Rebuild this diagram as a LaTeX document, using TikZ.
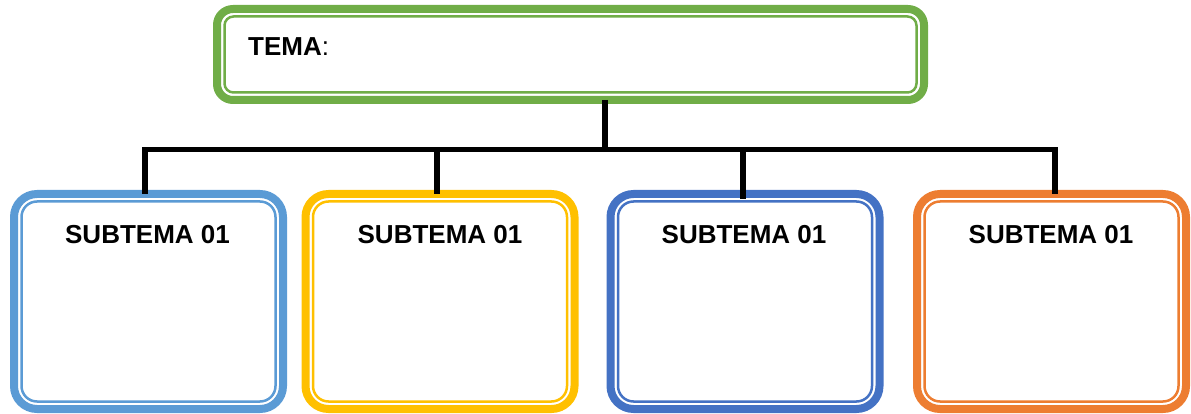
\documentclass[tikz,border=0pt]{standalone}
\usepackage{fontspec}
\setmainfont{Liberation Sans}
\definecolor{cgreen}{HTML}{70AD47}
\definecolor{clblue}{HTML}{5B9BD5}
\definecolor{cyellow}{HTML}{FFC000}
\definecolor{cblue}{HTML}{4472C4}
\definecolor{corange}{HTML}{ED7D31}
\tikzset{
  subbox/.style={draw=#1, line width=8pt, rounded corners=23pt, minimum width=269pt, minimum height=215pt, inner sep=0pt, outer sep=0pt, fill=white},
  temabox/.style={draw=cgreen, line width=8pt, rounded corners=16pt, minimum width=707pt, minimum height=91pt, inner sep=0pt, outer sep=0pt, fill=white},
  lbl/.style={font=\fontsize{26}{30}\selectfont\bfseries, inner sep=0pt, anchor=base},
  conn/.style={draw=black, line width=5.5pt, line join=miter, line cap=butt},
}
\newcommand{\innerline}[3]{%
  \draw[draw=#2, line width=2.5pt, rounded corners=#3]
    ([shift={(7.5pt,7.5pt)}]#1.south west) rectangle ([shift={(-7.5pt,-7.5pt)}]#1.north east);}
\begin{document}
\begin{tikzpicture}[x=1pt,y=-1pt]
\useasboundingbox (0,0) rectangle (1191,414);
% boxes
\node[temabox] (tema) at (570.5,54.5) {};
\innerline{tema}{cgreen}{9pt}
\node[lbl, anchor=base west] (tematxt) at (248,56) {TEMA\textmd{:}};

\node[subbox=clblue] (b1) at (148.5,301.5) {};
\innerline{b1}{clblue}{15.5pt}
\node[subbox=cyellow] (b2) at (440,301.5) {};
\innerline{b2}{cyellow}{15.5pt}
\node[subbox=cblue] (b3) at (745,301.5) {};
\innerline{b3}{cblue}{15.5pt}
\node[subbox=corange] (b4) at (1051.5,301.5) {};
\innerline{b4}{corange}{15.5pt}

\node[lbl] (t1) at (147.5,243.5) {SUBTEMA 01};
\node[lbl] (t2) at (440,243.5) {SUBTEMA 01};
\node[lbl] (t3) at (744,243.5) {SUBTEMA 01};
\node[lbl] (t4) at (1051,243.5) {SUBTEMA 01};

% connectors
\coordinate (barL) at (145,149.5);
\coordinate (barR) at (1055,149.5);
\coordinate (trunk) at (605,149.5);
\coordinate (d2) at (437,149.5);
\coordinate (d3) at (743,149.5);
\draw[conn] (barL |- b1.north) -- (barL) -- (barR) -- (barR |- b4.north);
\draw[conn] (tema.south -| trunk) -- (trunk);
\draw[conn] (d2) -- (d2 |- b2.north);
\draw[conn] (d3) -- ([yshift=-5pt]d3 |- b3.north);
\end{tikzpicture}
\end{document}
